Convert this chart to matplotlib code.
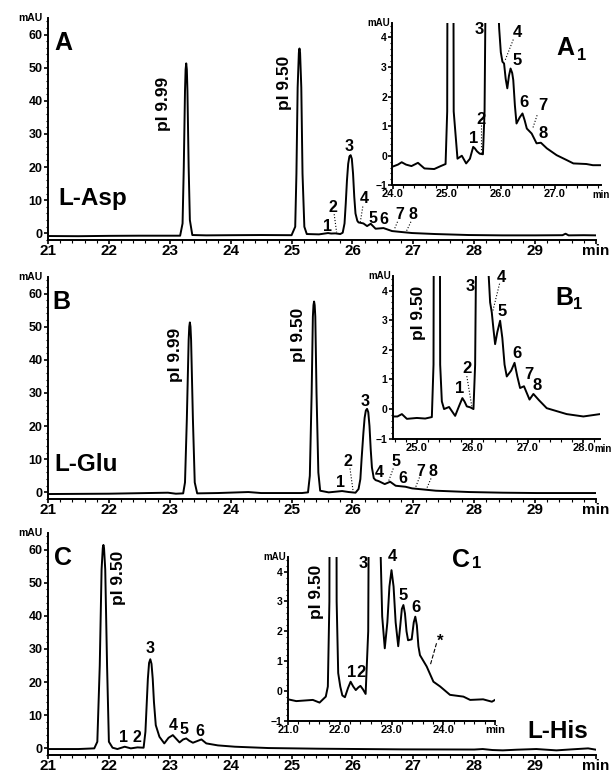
import matplotlib
matplotlib.use('Agg')
import matplotlib.pyplot as plt
from matplotlib.ticker import MultipleLocator
import numpy as np

plt.rcParams['font.family'] = ['Liberation Sans', 'DejaVu Sans']
plt.rcParams['font.weight'] = 'bold'

W, H = 614, 775

# ---- traces: (time / min, signal / mAU) ----
asp_main = [(21.0, -0.8), (21.5, -0.85), (22.0, -0.75), (22.5, -0.7), (23.0, -0.7), (23.17, -0.7),
            (23.21, 3), (23.23, 20), (23.25, 43), (23.26, 49.5), (23.27, 51.3), (23.28, 49.5), (23.29, 43),
            (23.31, 20), (23.33, 4), (23.37, -0.5), (23.6, -0.6), (24.0, -0.55), (24.5, -0.5), (25.0, -0.55),
            (25.06, 2), (25.08, 18), (25.10, 44), (25.12, 54.5), (25.13, 55.8), (25.14, 54.5), (25.16, 44),
            (25.18, 18), (25.21, 2), (25.25, -0.2), (25.45, -0.3), (25.6, 0.1), (25.65, -0.05), (25.72, 0.0),
            (25.8, -0.2), (25.84, 0.2), (25.87, 3), (25.89, 9), (25.91, 16), (25.93, 21), (25.95, 23.2),
            (25.97, 23.6), (25.99, 22.5), (26.01, 18), (26.03, 11), (26.05, 6), (26.08, 3.8), (26.1, 3.3),
            (26.18, 3.0), (26.24, 2.2), (26.3, 2.9), (26.38, 1.4), (26.51, 1.6), (26.65, 0.7), (26.81, 0.4),
            (26.98, 0.1), (27.36, -0.2), (27.91, -0.5), (28.46, -0.6), (29.0, -0.6), (29.45, -0.55),
            (29.5, -0.1), (29.55, -0.6), (29.8, -0.55), (30.0, -0.6)]

asp_inset = [(24.0, -0.37), (24.1, -0.3), (24.17, -0.22), (24.25, -0.3), (24.35, -0.35), (24.47, -0.24),
             (24.59, -0.43), (24.77, -0.45), (24.89, -0.35), (24.98, -0.28), (25.01, 1.5), (25.04, 30),
             (25.07, 55.8), (25.10, 30), (25.13, 1.5), (25.2, -0.1), (25.28, 0.0), (25.36, -0.26),
             (25.43, -0.1), (25.46, 0.1), (25.49, 0.3), (25.52, 0.25), (25.56, 0.15), (25.61, 0.07),
             (25.67, 0.05), (25.70, 1.5), (25.73, 8), (25.80, 23.6), (25.87, 12), (25.93, 6), (25.97, 4.3),
             (26.0, 3.5), (26.03, 3.18), (26.06, 3.12), (26.09, 2.6), (26.12, 2.28), (26.15, 2.7),
             (26.18, 2.95), (26.21, 2.8), (26.23, 2.56), (26.26, 1.7), (26.29, 1.09), (26.35, 1.3),
             (26.4, 1.43), (26.44, 1.2), (26.48, 0.92), (26.57, 0.75), (26.66, 0.42), (26.74, 0.44),
             (26.85, 0.25), (27.03, 0.02), (27.22, -0.15), (27.34, -0.26), (27.58, -0.28), (27.7, -0.32),
             (27.85, -0.32)]

glu_main = [(21.0, -0.5), (22.0, -0.4), (22.97, -0.1), (23.1, -0.4), (23.22, -0.3), (23.25, 3),
            (23.28, 22), (23.31, 46), (23.32, 50), (23.33, 51.3), (23.34, 50), (23.35, 46), (23.38, 22),
            (23.41, 3), (23.45, -0.3), (23.79, -0.2), (24.29, 0.1), (24.5, -0.2), (25.17, -0.2), (25.27, 0.0),
            (25.3, 5), (25.33, 30), (25.35, 53), (25.36, 56.5), (25.37, 57.6), (25.38, 56.5), (25.39, 53),
            (25.41, 30), (25.44, 6), (25.47, 0.5), (25.61, 0.0), (25.83, 0.4), (25.94, 0.1), (26.05, -0.1),
            (26.1, 1.0), (26.13, 4), (26.15, 10), (26.18, 18), (26.2, 22.5), (26.22, 24.7), (26.24, 25.2),
            (26.26, 24.2), (26.28, 20), (26.30, 13), (26.32, 7.5), (26.35, 4.3), (26.38, 3.7), (26.43, 3.4),
            (26.53, 2.5), (26.62, 3.2), (26.71, 2.0), (26.87, 1.7), (26.98, 1.2), (27.15, 0.9), (27.37, 0.5),
            (27.92, 0.1), (28.47, -0.1), (29.02, -0.2), (30.0, -0.2)]

glu_inset = [(24.57, -0.25), (24.65, -0.25), (24.73, -0.17), (24.82, -0.33), (25.0, -0.3), (25.15, -0.32),
             (25.27, -0.27), (25.30, 1.5), (25.33, 30), (25.36, 57.6), (25.39, 30), (25.42, 1.5),
             (25.45, 0.26), (25.49, 0.0), (25.58, 0.07), (25.69, -0.23), (25.76, 0.1), (25.82, 0.37),
             (25.86, 0.25), (25.90, 0.09), (25.96, 0.06), (26.02, 0.0), (26.05, 1.5), (26.09, 10),
             (26.17, 25.2), (26.24, 10), (26.28, 5), (26.32, 3.6), (26.35, 3.26), (26.38, 2.7), (26.41, 2.19),
             (26.45, 2.6), (26.50, 2.98), (26.54, 2.4), (26.58, 1.5), (26.62, 1.1), (26.7, 1.3), (26.76, 1.56),
             (26.81, 1.1), (26.86, 0.71), (26.93, 0.77), (27.03, 0.32), (27.10, 0.51), (27.2, 0.3),
             (27.34, 0.03), (27.70, -0.17), (28.0, -0.25), (28.3, -0.17)]

his_main = [(21.0, -0.2), (21.5, -0.2), (21.76, 0.0), (21.81, 2), (21.85, 25), (21.88, 54), (21.90, 60.5),
            (21.91, 61.4), (21.92, 60.5), (21.94, 54), (21.97, 25), (22.0, 2), (22.06, 0.2), (22.14, -0.2),
            (22.26, 0.5), (22.36, 0.0), (22.47, 0.3), (22.57, 0.2), (22.60, 5), (22.62, 13), (22.64, 21),
            (22.66, 25.8), (22.68, 26.9), (22.70, 25.5), (22.72, 21), (22.74, 14), (22.77, 7), (22.83, 3.5),
            (22.91, 1.5), (22.98, 3.2), (23.05, 4.0), (23.1, 3.0), (23.16, 1.8), (23.22, 2.7), (23.27, 3.0),
            (23.32, 2.3), (23.38, 1.7), (23.45, 2.2), (23.52, 2.7), (23.6, 1.5), (23.79, 0.9), (24.07, 0.5),
            (24.62, 0.1), (25.44, -0.1), (26.82, -0.3), (28.0, -0.35), (28.14, -0.2), (28.3, -0.5),
            (28.47, -0.6), (28.7, -0.4), (29.02, -0.2), (29.35, -0.6), (29.6, -0.3), (29.87, 0.0), (30.0, -0.4)]

his_inset = [(21.0, -0.28), (21.16, -0.34), (21.48, -0.3), (21.61, -0.39), (21.73, -0.19), (21.77, 0.15),
             (21.80, 3), (21.84, 40), (21.87, 61.4), (21.90, 40), (21.94, 3), (21.97, 0.6), (22.01, 0.15),
             (22.05, -0.15), (22.10, -0.21), (22.16, 0.1), (22.21, 0.31), (22.26, 0.15), (22.31, 0.03),
             (22.36, 0.12), (22.40, 0.17), (22.45, 0.05), (22.50, -0.1), (22.55, 2), (22.60, 20), (22.66, 26.9),
             (22.72, 20), (22.77, 6), (22.82, 2.5), (22.87, 1.43), (22.92, 2.3), (22.96, 3.5), (23.0, 4.05),
             (23.04, 3.5), (23.08, 2.3), (23.13, 1.5), (23.17, 2.2), (23.2, 2.75), (23.23, 2.88), (23.26, 2.6),
             (23.29, 2.0), (23.32, 1.7), (23.39, 1.73), (23.43, 2.3), (23.46, 2.49), (23.49, 2.2),
             (23.52, 1.5), (23.55, 1.2), (23.68, 0.82), (23.81, 0.31), (23.94, 0.15), (24.13, -0.13),
             (24.39, -0.19), (24.52, -0.3), (24.77, -0.28), (24.94, -0.36), (25.0, -0.3)]

# ---- peak labels (text, t, mAU) and dotted leaders ----
asp_peaks = [('1', 25.59, 0.8), ('2', 25.68, 6.3), ('3', 25.95, 24.8), ('4', 26.2, 9.1), ('5', 26.33, 3.1),
             ('6', 26.52, 2.8), ('7', 26.77, 4.3), ('8', 27.0, 4.3)]
asp_leaders = [((25.70, 5.8), (25.74, 0.3)), ((26.17, 8.1), (26.13, 3.5)),
               ((26.74, 3.5), (26.69, 1.3)), ((26.96, 3.5), (26.89, 0.8))]
asp_pi = [('pI 9.99', 22.89, 39.1), ('pI 9.50', 24.89, 45.3)]

asp1_peaks = [('1', 25.49, 0.42), ('2', 25.63, 1.09), ('3', 25.61, 4.13), ('4', 26.31, 4.02),
              ('5', 26.31, 3.06), ('6', 26.42, 1.66), ('7', 26.77, 1.55), ('8', 26.79, 0.59)]
asp1_leaders = [((25.63, 1.04), (25.63, 0.14)), ((26.23, 3.93), (26.08, 3.23)),
                ((26.67, 1.37), (26.59, 0.93))]

glu_peaks = [('1', 25.81, 1.7), ('2', 25.92, 8.1), ('3', 26.21, 26.0), ('4', 26.44, 4.5), ('5', 26.71, 8.1),
             ('6', 26.83, 2.7), ('7', 27.12, 4.9), ('8', 27.33, 4.9)]
glu_leaders = [((25.96, 7.2), (26.01, 0.5)), ((26.67, 7.2), (26.59, 3.2)),
               ((27.1, 4.5), (27.03, 1.2)), ((27.29, 4.2), (27.22, 1.2))]
glu_pi = [('pI 9.99', 23.09, 41.6), ('pI 9.50', 25.11, 47.6)]

glu1_peaks = [('1', 25.77, 0.54), ('2', 25.9, 1.22), ('3', 25.96, 4.0), ('4', 26.53, 4.29), ('5', 26.53, 3.15),
              ('6', 26.81, 1.73), ('7', 27.01, 1.03), ('8', 27.17, 0.66)]
glu1_leaders = [((25.9, 1.11), (25.99, 0.09)), ((26.49, 4.23), (26.37, 3.32))]
glu1_pi = [('pI 9.50', 25.03, 3.23)]

his_peaks = [('1', 22.24, 2.0), ('2', 22.46, 2.0), ('3', 22.67, 28.9), ('4', 23.05, 5.5), ('5', 23.24, 4.2),
             ('6', 23.5, 3.7)]
his_pi = [('pI 9.50', 22.15, 51.5)]

his1_peaks = [('1', 22.23, 0.48), ('2', 22.42, 0.48), ('3', 22.45, 4.11), ('4', 23.02, 4.34),
              ('5', 23.23, 3.05), ('6', 23.47, 2.66), ('*', 23.94, 1.5)]
his1_leaders = [((23.87, 1.6), (23.75, 0.87))]
his1_pi = [('pI 9.50', 21.55, 3.33)]

main_ticks = [21, 22, 23, 24, 25, 26, 27, 28, 29, 30]
main_ticklabels = ['21', '22', '23', '24', '25', '26', '27', '28', '29', 'min']


def px_axes(fig, left, top, right, bottom):
    return fig.add_axes([left / W, 1 - bottom / H, (right - left) / W, (bottom - top) / H])


def style(ax, xsize, ysize, xminor, yminor):
    for side in ['top', 'right']:
        ax.spines[side].set_visible(False)
    for side in ['left', 'bottom']:
        ax.spines[side].set_linewidth(1.4)
    ax.xaxis.set_minor_locator(MultipleLocator(xminor))
    ax.yaxis.set_minor_locator(MultipleLocator(yminor))
    ax.tick_params(which='major', direction='out', length=3, width=1.2)
    ax.tick_params(which='minor', direction='out', length=1.8, width=0.8)
    ax.tick_params(axis='x', labelsize=xsize, pad=0)
    ax.tick_params(axis='y', labelsize=ysize, pad=1)
    ax.patch.set_alpha(0)


def trace(ax, pts):
    t, v = np.array(pts).T
    ax.plot(t, v, color='black', lw=1.4, solid_joinstyle='round')


def labels(ax, peaks, leaders, size, leader_style=':'):
    for s, x, y in peaks:
        ax.text(x, y, s, ha='center', va='baseline', fontsize=size, fontweight='bold')
    for (x0, y0), (x1, y1) in leaders:
        ax.plot([x0, x1], [y0, y1], color='black', lw=0.8, ls=leader_style)


def pi_labels(ax, items, size):
    for s, x, y in items:
        ax.text(x, y, s, rotation=90, ha='center', va='center', fontsize=size, fontweight='bold')


def main_panel(ax, pts, letter, letter_x, name, name_xy, name_ha='left'):
    trace(ax, pts)
    ax.set_xlim(21, 30)
    ax.set_ylim(-2, 65)
    ax.set_xticks(main_ticks)
    ax.set_xticklabels(main_ticklabels)
    ax.set_yticks(range(0, 61, 10))
    style(ax, 11, 9, 0.2, 2)
    ax.text(-0.01, 1.0, 'mAU', transform=ax.transAxes, ha='right', va='center', fontsize=7.5)
    ax.text(letter_x, 55.3, letter, ha='left', va='baseline', fontsize=18)
    ax.text(name_xy[0], name_xy[1], name, ha=name_ha, va='baseline', fontsize=17.5)


def inset_panel(ax, pts, xlim, xticks, letter, letter_xy, sub_xy, min_x=None):
    trace(ax, pts)
    ax.set_xlim(*xlim)
    ax.set_ylim(-1, 4.5)
    ax.set_yticks(range(-1, 5))
    ax.set_xticks(xticks)
    labs = ['%.1f' % x for x in xticks]
    if min_x is None:
        labs[-1] = 'min'
    else:
        ax.text(min_x, -0.03, 'min', transform=ax.transAxes, ha='center', va='top', fontsize=7)
    ax.set_xticklabels(labs)
    style(ax, 8, 7.5, 0.2, 0.2)
    ax.text(-0.01, 1.0, 'mAU', transform=ax.transAxes, ha='right', va='center', fontsize=7)
    ax.text(letter_xy[0], letter_xy[1], letter, ha='left', va='baseline', fontsize=18)
    ax.text(sub_xy[0], sub_xy[1], '1', ha='left', va='baseline', fontsize=12)


fig = plt.figure(figsize=(W / 100, H / 100), dpi=100)

# ---- A: L-Asp ----
axA = px_axes(fig, 48, 18, 596, 240)
main_panel(axA, asp_main, 'A', 21.11, 'L-Asp', (21.17, 8.5))
labels(axA, asp_peaks, asp_leaders, 11.5)
pi_labels(axA, asp_pi, 12.5)

axA1 = px_axes(fig, 392.5, 22.7, 601, 185.3)
inset_panel(axA1, asp_inset, (24.0, 27.85), [24.0, 25.0, 26.0, 27.0], 'A', (27.03, 3.4), (27.4, 3.23),
            min_x=1.0)
labels(axA1, asp1_peaks, asp1_leaders, 12)

# ---- B: L-Glu ----
axB = px_axes(fig, 48, 277, 596, 499)
main_panel(axB, glu_main, 'B', 21.08, 'L-Glu', (21.1, 6.5))
labels(axB, glu_peaks, glu_leaders, 11.5)
pi_labels(axB, glu_pi, 12.5)

axB1 = px_axes(fig, 393, 275.7, 600, 438.7)
inset_panel(axB1, glu_inset, (24.57, 28.3), [25.0, 26.0, 27.0, 28.0], 'B', (27.49, 3.52), (27.81, 3.38),
            min_x=1.015)
labels(axB1, glu1_peaks, glu1_leaders, 12)
pi_labels(axB1, glu1_pi, 12.5)

# ---- C: L-His ----
axC = px_axes(fig, 48, 533, 596, 755)
main_panel(axC, his_main, 'C', 21.1, 'L-His', (29.37, 3.0), name_ha='center')
labels(axC, his_peaks, [], 11.5)
pi_labels(axC, his_pi, 12.5)

axC1 = px_axes(fig, 288, 556.7, 495, 720.8)
inset_panel(axC1, his_inset, (21.0, 25.0), [21.0, 22.0, 23.0, 24.0, 25.0], 'C', (24.16, 4.17), (24.55, 4.12))
labels(axC1, his1_peaks, his1_leaders, 12, leader_style='--')
pi_labels(axC1, his1_pi, 12.5)

fig.savefig('out.png', dpi=100)
